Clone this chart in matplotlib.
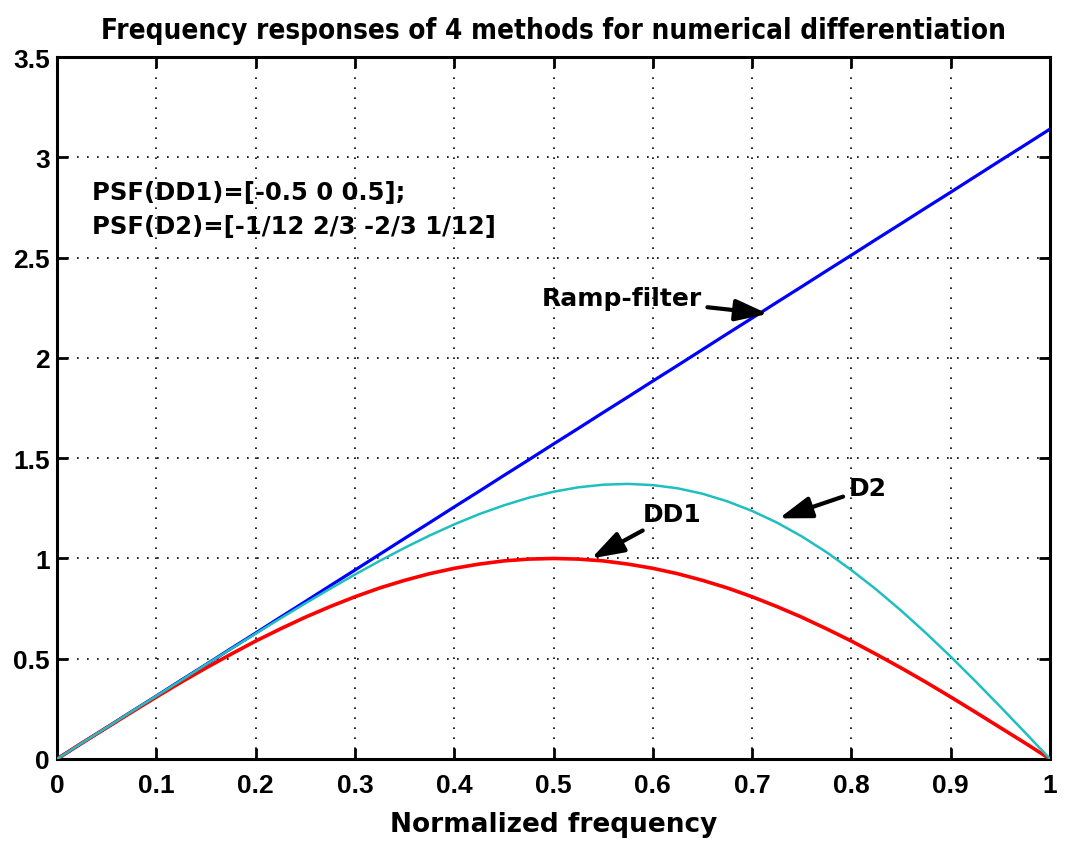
import numpy as np
import matplotlib
matplotlib.use('Agg')
import matplotlib.pyplot as plt

# values (normalized frequency step 0.025)
freq = [0.0, 0.025, 0.05, 0.075, 0.1, 0.125, 0.15, 0.175, 0.2, 0.225, 0.25,
        0.275, 0.3, 0.325, 0.35, 0.375, 0.4, 0.425, 0.45, 0.475, 0.5,
        0.525, 0.55, 0.575, 0.6, 0.625, 0.65, 0.675, 0.7, 0.725, 0.75,
        0.775, 0.8, 0.825, 0.85, 0.875, 0.9, 0.925, 0.95, 0.975, 1.0]
ramp = [0.0, 0.079, 0.157, 0.236, 0.314, 0.393, 0.471, 0.550, 0.628, 0.707, 0.785,
        0.864, 0.942, 1.021, 1.100, 1.178, 1.257, 1.335, 1.414, 1.492, 1.571,
        1.649, 1.728, 1.806, 1.885, 1.963, 2.042, 2.121, 2.199, 2.278, 2.356,
        2.435, 2.513, 2.592, 2.670, 2.749, 2.827, 2.906, 2.985, 3.063, 3.142]
dd1 = [0.0, 0.079, 0.156, 0.233, 0.309, 0.383, 0.454, 0.522, 0.588, 0.649, 0.707,
       0.760, 0.809, 0.853, 0.891, 0.924, 0.951, 0.972, 0.988, 0.997, 1.0,
       0.997, 0.988, 0.972, 0.951, 0.924, 0.891, 0.853, 0.809, 0.760, 0.707,
       0.649, 0.588, 0.522, 0.454, 0.383, 0.309, 0.233, 0.156, 0.079, 0.0]
d2 = [0.0, 0.079, 0.157, 0.236, 0.314, 0.392, 0.471, 0.548, 0.625, 0.701, 0.776,
      0.849, 0.920, 0.988, 1.053, 1.114, 1.170, 1.221, 1.265, 1.303, 1.333,
      1.355, 1.368, 1.372, 1.366, 1.350, 1.323, 1.285, 1.237, 1.179, 1.110,
      1.031, 0.942, 0.845, 0.740, 0.628, 0.510, 0.387, 0.260, 0.131, 0.0]

xticks = [0, 0.1, 0.2, 0.3, 0.4, 0.5, 0.6, 0.7, 0.8, 0.9, 1]
xtick_labels = ['0', '0.1', '0.2', '0.3', '0.4', '0.5', '0.6', '0.7', '0.8', '0.9', '1']
yticks = [0, 0.5, 1, 1.5, 2, 2.5, 3, 3.5]
ytick_labels = ['0', '0.5', '1', '1.5', '2', '2.5', '3', '3.5']

plt.rcParams['font.family'] = ['Liberation Sans', 'DejaVu Sans']

fig = plt.figure(figsize=(10.65, 8.45), dpi=100)
ax = fig.add_axes([0.0535, 0.1006, 0.9325, 0.8305])

ax.plot(freq, ramp, color='#0000ff', lw=2.3, zorder=3)
ax.plot(freq, dd1, color='#ff0000', lw=2.6, zorder=3)
ax.plot(freq, d2, color='#1fbfbf', lw=1.8, zorder=4)

ax.set_xlim(0, 1)
ax.set_ylim(0, 3.5)
ax.set_xticks(xticks)
ax.set_xticklabels(xtick_labels)
ax.set_yticks(yticks)
ax.set_yticklabels(ytick_labels)
ax.tick_params(direction='in', length=8, width=2, top=True, right=True,
               labelsize=19)
ax.tick_params(axis='x', pad=10)
ax.tick_params(axis='y', pad=5)
for lbl in ax.get_xticklabels() + ax.get_yticklabels():
    lbl.set_fontweight('bold')
for s in ax.spines.values():
    s.set_linewidth(2.2)
ax.grid(True, color='black', linestyle=(0, (1, 5)), linewidth=1.2)

dv = ['DejaVu Sans']
ax.set_xlabel('Normalized frequency', fontsize=19, fontweight='bold', labelpad=10,
              family=dv)
ax.set_title('Frequency responses of 4 methods for numerical differentiation',
             fontsize=20, fontweight='bold', pad=14, family=dv,
             fontstretch='condensed')

ax.text(0.035, 2.826, 'PSF(DD1)=[-0.5 0 0.5];', fontsize=17.5, fontweight='bold',
        va='center', family=dv)
ax.text(0.035, 2.657, 'PSF(D2)=[-1/12 2/3 -2/3 1/12]', fontsize=17.5, fontweight='bold',
        va='center', family=dv)

arrow = dict(arrowstyle='-|>,head_length=0.9,head_width=0.3', color='black', lw=3,
             mutation_scale=22, shrinkA=2, shrinkB=0)
ax.annotate('Ramp-filter', xy=(0.716, 2.22), xytext=(0.488, 2.30), fontsize=18,
            fontweight='bold', va='center', ha='left', arrowprops=arrow, family=dv)
ax.annotate('DD1', xy=(0.538, 1.0), xytext=(0.59, 1.22), fontsize=18,
            fontweight='bold', va='center', ha='left', arrowprops=arrow, family=dv)
ax.annotate('D2', xy=(0.727, 1.2), xytext=(0.797, 1.35), fontsize=18,
            fontweight='bold', va='center', ha='left', arrowprops=arrow, family=dv)

fig.savefig('out.png', dpi=100)
